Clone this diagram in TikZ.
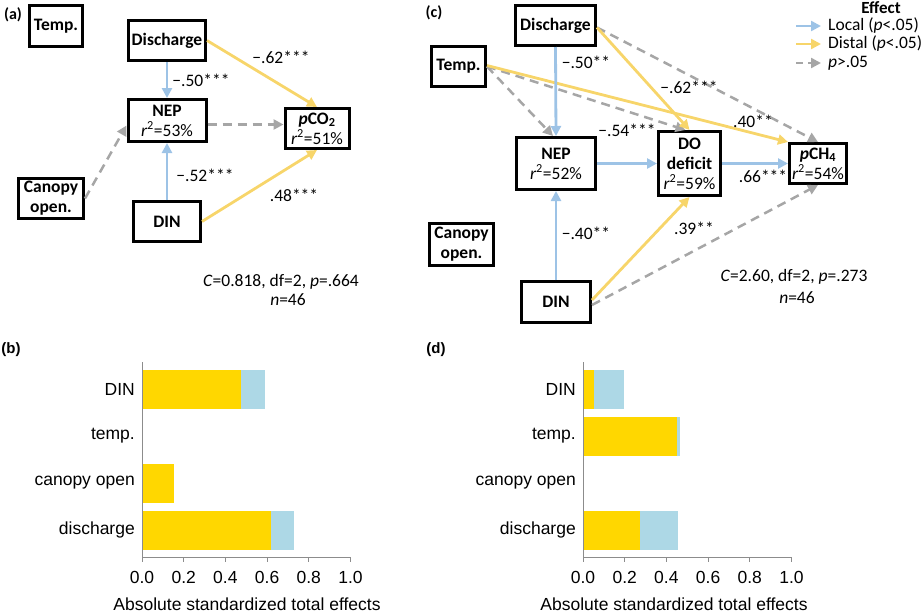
\documentclass[tikz,border=0pt]{standalone}
\usepackage{fontspec}
\setmainfont{Carlito}
\newfontfamily\arialf{Liberation Sans}
\usetikzlibrary{arrows.meta}
\definecolor{locb}{HTML}{9DC3E6}
\definecolor{disy}{HTML}{F7D56A}
\definecolor{nsg}{HTML}{A6A6A6}
\definecolor{bary}{HTML}{FFD700}
\definecolor{barb}{HTML}{ADD8E6}
\definecolor{axg}{HTML}{8C8C8C}
\newcommand\rsqv[1]{{\mdseries\textit{r}\textsuperscript{2}=#1\%}}
\begin{document}
\begin{tikzpicture}[x=1pt,y=-1pt,
 box/.style={draw=black, line width=3pt, inner sep=0pt, align=center, font=\fontsize{17.5}{20}\selectfont\bfseries},
 tipa/.style={-{Triangle[length=10pt,width=10pt]}},
 loc/.style={draw=locb, line width=2.8pt, tipa},
 dis/.style={draw=disy, line width=2.8pt, tipa},
 ns/.style={draw=nsg, line width=2.5pt, dash pattern=on 9pt off 6pt, tipa},
 lab/.style={font=\fontsize{17.5}{20}\selectfont, inner sep=0pt},
 plab/.style={font=\fontsize{16}{18}\selectfont\bfseries, inner sep=0pt},
 blab/.style={font=\arialf\fontsize{17.5}{20}\selectfont, inner sep=0pt},
 axis/.style={draw=axg, line width=1pt}
]
\useasboundingbox (0,0) rectangle (922,614);

% ---------------- panel (a)
\node[plab] (pa) at (13,15) {(a)};
\node[box, minimum width=53pt, minimum height=41pt] (tempA) at (56,26) {Temp.};
\node[box, minimum width=77pt, minimum height=40pt] (dischA) at (167,40.5) {Discharge};
\node[box, minimum width=78pt, minimum height=42pt] (nepA) at (167,120.5) {NEP\\\rsqv{53}};
\node[box, minimum width=64pt, minimum height=40pt] (pco2) at (317,128.5) {\textit{p}CO\textsubscript{2}\\\rsqv{51}};
\node[box, minimum width=65pt, minimum height=40pt] (canA) at (51,198.5) {Canopy\\open.};
\node[box, minimum width=67pt, minimum height=40pt] (dinA) at (167,221.5) {DIN};

\draw[loc] (dischA.south) -- (nepA.north);
\draw[loc] (dinA.north) -- (nepA.south);
\draw[dis] (dischA.east) -- (pco2.north);
\draw[dis] (dinA.east) -- (pco2.south);
\coordinate (nA1) at ([yshift=-4pt]nepA.east);
\draw[ns] (nA1) -- (nA1 -| pco2.west);
\draw[ns] (canA.east) -- ([yshift=-5pt]nepA.west);

\node[lab] (la1) at (201,80) {−.50***};
\node[lab] (la2) at (281,57) {−.62***};
\node[lab] (la3) at (205,175) {−.52***};
\node[lab] (la4) at (294,195) {.48***};
\node[lab] (sa1) at (281,282) {\textit{C}=0.818, df=2, \textit{p}=.664};
\node[lab] (sa2) at (288,300) {\textit{n}=46};

% ---------------- panel (c)
\node[plab] (pc) at (434,13) {(c)};
\node[box, minimum width=80pt, minimum height=40pt] (dischC) at (555.5,25.5) {Discharge};
\node[box, minimum width=54pt, minimum height=40pt] (tempC) at (458.5,66.5) {Temp.};
\node[box, minimum width=79pt, minimum height=52pt] (nepC) at (556,163.5) {NEP\\\rsqv{52}};
\node[box, minimum width=64pt, minimum height=42pt] (canC) at (461.5,244.5) {Canopy\\open.};
\node[box, minimum width=69pt, minimum height=41pt] (dinC) at (556,302) {DIN};
\node[box, minimum width=62pt, minimum height=64pt] (doC) at (689.5,163.5) {DO\\deficit\\\rsqv{59}};
\node[box, minimum width=57pt, minimum height=40pt] (pch4) at (818,163.5) {\textit{p}CH\textsubscript{4}\\\rsqv{54}};

\coordinate (dC1) at ([yshift=-2pt]dischC.east);
\draw[ns] (dC1) -- (pch4.north);
\draw[ns] (tempC.east) -- ([xshift=-3pt]nepC.north);
\draw[ns] (tempC.east) -- ([xshift=-4pt]doC.north);
\draw[dis] ([yshift=1pt]tempC.east) -- (pch4.north west);
\draw[dis] (dC1) -- (doC.north);
\draw[loc] (dischC.south) -- (nepC.north);
\draw[loc] (nepC.east) -- (doC.west);
\draw[loc] (doC.east) -- (pch4.west);
\draw[loc] (dinC.north) -- (nepC.south);
\draw[ns] ([yshift=-3pt]dinC.east) -- (pch4.south);
\draw[dis] ([yshift=2pt]dinC.east) -- (doC.south);

\node[lab] (lc1) at (586,62) {−.50**};
\node[lab] (lc2) at (689,87) {−.62***};
\node[lab] (lc3) at (753,121) {.40**};
\node[lab] (lc4) at (627,130) {−.54***};
\node[lab] (lc5) at (763,176) {.66***};
\node[lab] (lc6) at (586,233) {−.40**};
\node[lab] (lc7) at (694,228) {.39**};
\node[lab] (sc1) at (794,277) {\textit{C}=2.60, df=2, \textit{p}=.273};
\node[lab] (sc2) at (797,298) {\textit{n}=46};

% legend
\node[lab, font=\fontsize{17}{20}\selectfont\bfseries] (leg) at (881,8) {Effect};
\coordinate (g1a) at (796,26); \coordinate (g1b) at (821,26);
\coordinate (g2a) at (796,44); \coordinate (g2b) at (821,44);
\coordinate (g3a) at (796,63); \coordinate (g3b) at (821,63);
\draw[loc, line width=2.4pt] (g1a) -- (g1b);
\draw[dis, line width=2.4pt] (g2a) -- (g2b);
\draw[ns, line width=2.4pt, dash pattern=on 7pt off 5pt] (g3a) -- (g3b);
\node[lab, anchor=west] (gt1) at (828,26) {Local (\textit{p}<.05)};
\node[lab, anchor=west] (gt2) at (828,44) {Distal (\textit{p}<.05)};
\node[lab, anchor=west] (gt3) at (828,63) {\textit{p}>.05};

% ---------------- panel (b)
\node[plab, font=\arialf\fontsize{15}{18}\selectfont\bfseries] (pb) at (11,350) {(b)};
\fill[bary] (142,369.5) rectangle (241,408.5);
\fill[barb] (241,369.5) rectangle (265,408.5);
\fill[bary] (142,463.5) rectangle (174,502.5);
\fill[bary] (142,510.5) rectangle (271,549.5);
\fill[barb] (271,510.5) rectangle (294,549.5);
\draw[axis] (142,362) -- (142,557) -- (350.5,557);
\foreach \t/\v in {0/0.0,1/0.2,2/0.4,3/0.6,4/0.8,5/1.0}{
  \draw[axis] (142+41.7*\t,557) -- (142+41.7*\t,562);
  \node[blab, anchor=base] (tb\t) at (142+41.7*\t,583) {\v};
}
\node[blab, anchor=east] (cb1) at (135,389) {DIN};
\node[blab, anchor=east] (cb2) at (135,436) {temp.};
\node[blab, anchor=east] (cb3) at (135,483) {canopy open};
\node[blab, anchor=east] (cb4) at (135,530) {discharge};
\node[blab, anchor=base] (xb) at (247,610) {Absolute standardized total effects};

% ---------------- panel (d)
\node[plab, font=\arialf\fontsize{15}{18}\selectfont\bfseries] (pd) at (436,350) {(d)};
\fill[bary] (583,369.5) rectangle (594,408.5);
\fill[barb] (594,369.5) rectangle (624,408.5);
\fill[bary] (583,416.5) rectangle (677,455.5);
\fill[barb] (677,416.5) rectangle (680,455.5);
\fill[bary] (583,510.5) rectangle (640,549.5);
\fill[barb] (640,510.5) rectangle (678,549.5);
\draw[axis] (583,362) -- (583,557) -- (791.5,557);
\foreach \t/\v in {0/0.0,1/0.2,2/0.4,3/0.6,4/0.8,5/1.0}{
  \draw[axis] (583+41.7*\t,557) -- (583+41.7*\t,562);
  \node[blab, anchor=base] (td\t) at (583+41.7*\t,583) {\v};
}
\node[blab, anchor=east] (cd1) at (576,389) {DIN};
\node[blab, anchor=east] (cd2) at (576,436) {temp.};
\node[blab, anchor=east] (cd3) at (576,483) {canopy open};
\node[blab, anchor=east] (cd4) at (576,530) {discharge};
\node[blab, anchor=base] (xd) at (674,610) {Absolute standardized total effects};
\end{tikzpicture}
\end{document}
